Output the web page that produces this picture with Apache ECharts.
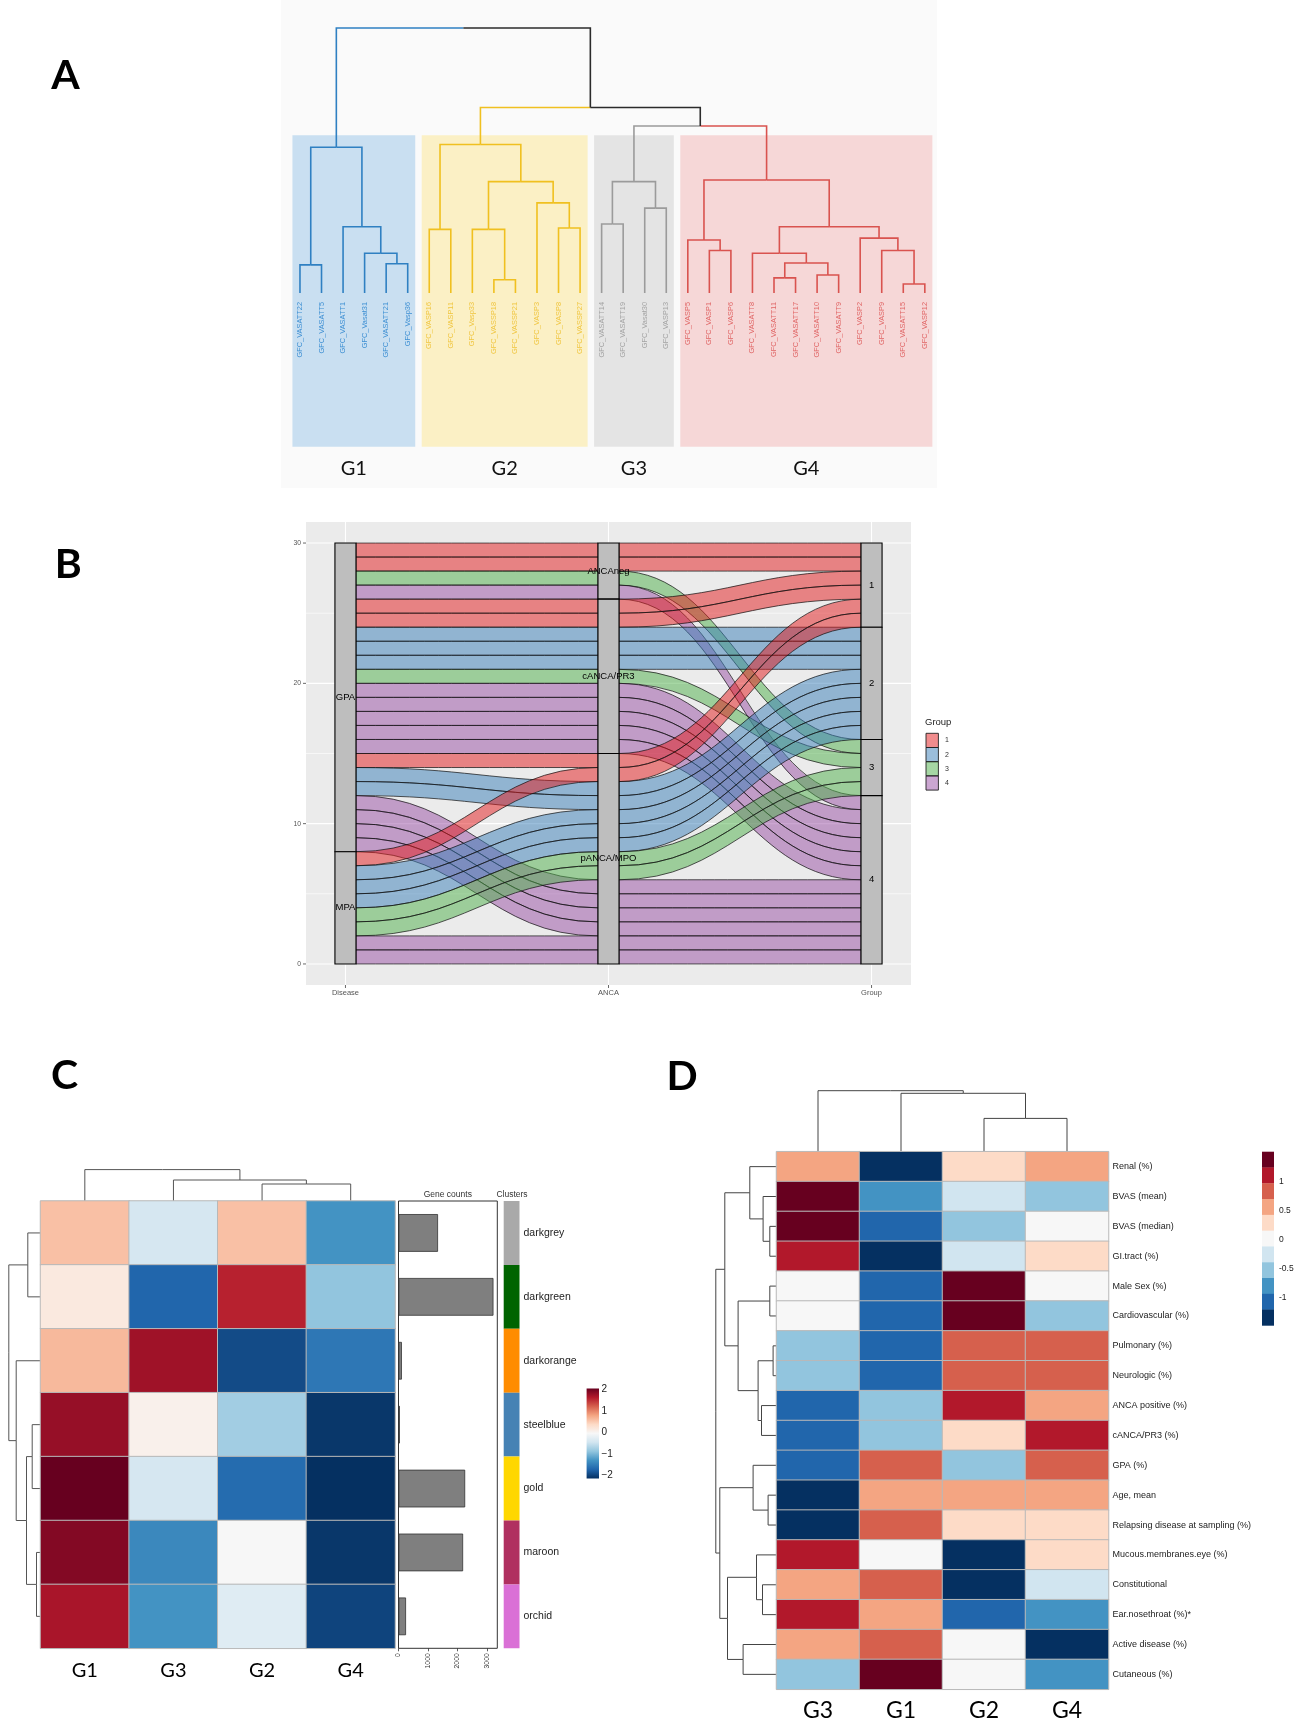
<!DOCTYPE html>
<html><head><meta charset="utf-8">
<script src="https://cdn.jsdelivr.net/npm/echarts@6/dist/echarts.min.js"></script>
<style>html,body{margin:0;padding:0;background:#fff}#c{width:1299px;height:1729px}</style>
</head><body><div id="c"></div><script>
// ================= DATA =================
// ---- Panel A: sample dendrogram ----
const leafLabels = ['GFC_VASATT22','GFC_VASATT5','GFC_VASATT1','GFC_Vasat31','GFC_VASATT21','GFC_Vasp36',
  'GFC_VASP16','GFC_VASP11','GFC_Vasp33','GFC_VASSP18','GFC_VASSP21','GFC_VASP3','GFC_VASP8','GFC_VASSP27',
  'GFC_VASATT14','GFC_VASATT19','GFC_Vasat30','GFC_VASP13',
  'GFC_VASP5','GFC_VASP1','GFC_VASP6','GFC_VASATT8','GFC_VASATT11','GFC_VASATT17','GFC_VASATT10','GFC_VASATT9','GFC_VASP2','GFC_VASP9','GFC_VASATT15','GFC_VASP12'];
const leafGroup = [0,0,0,0,0,0, 1,1,1,1,1,1,1,1, 2,2,2,2, 3,3,3,3,3,3,3,3,3,3,3,3];
const groupNames = ['G1','G2','G3','G4'];
// hclust-style merges: negative = leaf (1-based), positive = earlier merge; third = height
const sampleMerges = [
  [-1,-2,1.06],[-5,-6,1.1],[-4,2,1.5],[-3,3,2.5],[1,4,5.5],
  [-7,-8,2.4],[-10,-11,0.5],[-9,7,2.4],[-13,-14,2.45],[-12,9,3.4],[8,10,4.2],[6,11,5.6],
  [-15,-16,2.6],[-17,-18,3.2],[13,14,4.2],
  [-20,-21,1.6],[-19,16,2.0],[-23,-24,0.57],[-25,-26,0.68],[18,19,1.13],[-22,20,1.5],
  [-29,-30,0.34],[-28,22,1.6],[-27,23,2.07],[21,24,2.5],[17,25,4.26],
  [15,26,6.3],[12,27,7.0],[5,28,10.0]
];

// ---- Panel B: alluvial (one entry per patient) ----
const axesB = ['Disease','ANCA','Group'];
const strataB = [['GPA','MPA'],['ANCAneg','cANCA/PR3','pANCA/MPO'],['1','2','3','4']];
const patientDisease = ['GPA','GPA','GPA','GPA','GPA','GPA','GPA','GPA','GPA','GPA','GPA','GPA','GPA','GPA','GPA',
  'GPA','GPA','GPA','GPA','GPA','GPA','GPA','MPA','MPA','MPA','MPA','MPA','MPA','MPA','MPA'];
const patientANCA = ['ANCAneg','ANCAneg','ANCAneg','ANCAneg',
  'cANCA/PR3','cANCA/PR3','cANCA/PR3','cANCA/PR3','cANCA/PR3','cANCA/PR3','cANCA/PR3','cANCA/PR3','cANCA/PR3','cANCA/PR3','cANCA/PR3',
  'pANCA/MPO','pANCA/MPO','pANCA/MPO','pANCA/MPO','pANCA/MPO','pANCA/MPO','pANCA/MPO',
  'pANCA/MPO','pANCA/MPO','pANCA/MPO','pANCA/MPO','pANCA/MPO','pANCA/MPO','pANCA/MPO','pANCA/MPO'];
const patientGroup = [1,1,3,4, 1,1,2,2,2,3,4,4,4,4,4, 1,2,2,4,4,4,4, 1,2,2,2,3,3,4,4];
const sortOrderB = [[0,1,2],[1,2,0],[2,1,0]];
const yMajorB = [0,10,20,30];
const yMinorB = [5,15,25];

// ---- Panel C: module heatmap ----
const heatColsC = ['G1','G3','G2','G4'];
const clusterNames = ['darkgrey','darkgreen','darkorange','steelblue','gold','maroon','orchid'];
const clusterColors = ['#a9a9a9','#006400','#ff8c00','#4682b4','#ffd700','#b03060','#da70d6'];
const moduleScores = [
  [0.6,-0.35,0.6,-1.2],
  [0.2,-1.6,1.55,-0.8],
  [0.65,1.7,-1.8,-1.45],
  [1.75,0.1,-0.7,-1.95],
  [2.1,-0.35,-1.55,-2.1],
  [1.85,-1.3,0.0,-1.95],
  [1.65,-1.2,-0.25,-1.85]
];
const geneCounts = [1340,3220,115,45,2260,2190,255];
const colMergesC = [[-3,-4,1.7],[-2,1,2.1],[-1,2,3.14]];
const rowMergesC = [[-1,-2,1.27],[-4,-5,0.83],[-6,-7,0.4],[2,3,1.4],[-3,4,2.43],[1,5,3.17]];
const legendTicksC = [2,1,0,-1,-2];

// ---- Panel D: clinical features heatmap ----
const heatColsD = ['G3','G1','G2','G4'];
const featureNames = ['Renal (%)','BVAS (mean)','BVAS (median)','GI.tract (%)','Male Sex (%)','Cardiovascular (%)',
  'Pulmonary (%)','Neurologic (%)','ANCA positive (%)','cANCA/PR3 (%)','GPA (%)','Age, mean',
  'Relapsing disease at sampling (%)','Mucous.membranes.eye (%)','Constitutional','Ear.nosethroat (%)*',
  'Active disease (%)','Cutaneous (%)'];
const featureScores = [
  [0.55,-1.4,0.3,0.55],
  [1.4,-0.8,-0.3,-0.55],
  [1.4,-1.1,-0.55,0],
  [1.1,-1.4,-0.3,0.3],
  [0,-1.1,1.4,0],
  [0,-1.1,1.4,-0.55],
  [-0.55,-1.1,0.8,0.8],
  [-0.55,-1.1,0.8,0.8],
  [-1.1,-0.55,1.1,0.55],
  [-1.1,-0.55,0.3,1.1],
  [-1.1,0.8,-0.55,0.8],
  [-1.4,0.55,0.55,0.55],
  [-1.4,0.8,0.3,0.3],
  [1.1,0,-1.4,0.3],
  [0.55,0.8,-1.4,-0.3],
  [1.1,0.55,-1.1,-0.8],
  [0.55,0.8,0,-1.4],
  [-0.55,1.4,0,-0.8]
];
const colMergesD = [[-3,-4,3.33],[-2,1,5.84],[-1,2,6.1]];
const rowMergesD = [[-3,-4,0.67],[-2,1,1.34],[-1,2,2.67],[-5,-6,0.67],[-7,-8,0.34],[-9,-10,1.5],[5,6,1.84],[4,7,3.84],[3,8,5.17],
  [-12,-13,0.84],[-11,10,2.34],[-15,-16,1.4],[-14,12,2.0],[-17,-18,3.34],[13,14,4.9],[11,15,5.67],[9,16,6.07]];
const legendTicksD = [1,0.5,0,-0.5,-1];

// ================= STYLE =================
const SANS = '"Liberation Sans", Arial, sans-serif';
const BIG = 'Lato, "Open Sans", sans-serif';
const rdbu = ['#053061','#2166ac','#4393c3','#92c5de','#d1e5f0','#f7f7f7','#fddbc7','#f4a582','#d6604d','#b2182b','#67001f'];
const aLine = ['#2f80c2','#f0c020','#9b9b9b','#d9534f'];
const aFill = ['#c9dff1','#fbf0c5','#e4e4e4','#f6d7d7'];
const aText = ['#3d8fd3','#f0c640','#a3a3a3','#e06666'];
const flowFill = ['rgba(228,26,28,0.5)','rgba(55,126,184,0.5)','rgba(77,175,74,0.5)','rgba(152,78,163,0.5)'];
const HW = 0.04;

// ================= HELPERS =================
function dendroArms(merges, leafColor) {
  const nodes = [];
  const info = c => c < 0 ? {p: -c - 1, h: 0, col: leafColor ? leafColor[-c - 1] : 0} : nodes[c - 1];
  const arms = [];
  merges.forEach(m => {
    const A = info(m[0]), B = info(m[1]);
    const p = (A.p + B.p) / 2;
    arms.push([A.p, A.h, p, m[2], A.col], [B.p, B.h, p, m[2], B.col]);
    nodes.push({p: p, h: m[2], col: A.col === B.col ? A.col : -1});
  });
  return arms;
}
function dendroSeries(gi, arms, orient, colorFn, lw) {
  return {type: 'custom', coordinateSystem: 'cartesian2d', xAxisIndex: gi, yAxisIndex: gi, silent: true,
    data: arms,
    renderItem(params, api) {
      const c = api.value(0), ch = api.value(1), m = api.value(2), h = api.value(3), ci = api.value(4);
      const pt = (pos, hh) => orient === 'top' ? api.coord([pos, hh]) : api.coord([hh, pos]);
      return {type: 'polyline', shape: {points: [pt(c, ch), pt(c, h), pt(m, h)]},
        style: {stroke: colorFn(ci), lineWidth: lw, fill: null}};
    }};
}
const hv = (gi, min, max, inverse) => ({type: 'value', gridIndex: gi, min: min, max: max, inverse: !!inverse, show: false});
function txt(text, x, y, size, family, color, align, weight) {
  return {type: 'text', x: x, y: y, silent: true, style: {text: text, fontSize: size, fontFamily: family, fontWeight: weight || 'normal',
    fill: color, align: align || 'center', verticalAlign: 'middle', textAlign: align || 'center', textVerticalAlign: 'middle'}};
}

// ================= DERIVED =================
const groupRanges = groupNames.map((g, gi) => {
  const idx = leafGroup.map((v, i) => v === gi ? i : -1).filter(i => i >= 0);
  return [idx[0], idx[idx.length - 1], gi];
});
const armsA = dendroArms(sampleMerges, leafGroup);

const NB = patientGroup.length;
const stratIdx = p => [strataB[0].indexOf(patientDisease[p]), strataB[1].indexOf(patientANCA[p]), strataB[2].indexOf(String(patientGroup[p]))];
const topAt = axesB.map((_, k) => {
  const idx = [...Array(NB).keys()];
  idx.sort((a, b) => {
    const sa = stratIdx(a), sb = stratIdx(b);
    for (const d of sortOrderB[k]) { const diff = sa[d] - sb[d]; if (diff) return diff; }
    return a - b;
  });
  const tops = new Array(NB);
  idx.forEach((p, r) => { tops[p] = NB - r; });
  return tops;
});
const flowData = [];
for (let k = 0; k < axesB.length - 1; k++) {
  for (let p = 0; p < NB; p++) flowData.push([k, topAt[k][p], topAt[k + 1][p], stratIdx(p)[2]]);
}
const strataData = [], strataLabels = [];
strataB.forEach((list, k) => {
  let top = NB;
  list.forEach((s, si) => {
    let cnt = 0;
    for (let p = 0; p < NB; p++) if (stratIdx(p)[k] === si) cnt++;
    strataData.push([k + 1, top, top - cnt]);
    strataLabels.push(s);
    top -= cnt;
  });
});
const gridLinesB = [...yMajorB.map(v => [0, v]), ...yMinorB.map(v => [1, v]), ...axesB.map((a, i) => [2, i + 1])];

// ================= OPTION =================
const grids = [
  {left: 289.2, top: 15.5, width: 646.4, height: 437},
  {left: 306, top: 522, width: 605, height: 463, show: true, backgroundColor: '#ebebeb', borderWidth: 0},
  {left: 40.5, top: 1169, width: 354.5, height: 32},
  {left: 8, top: 1201, width: 32.5, height: 447.3},
  {left: 40.5, top: 1201, width: 354.5, height: 447.3},
  {left: 398.5, top: 1201, width: 98.8, height: 447.3, show: true, borderColor: '#333', borderWidth: 1},
  {left: 503.7, top: 1201, width: 15.8, height: 447.3},
  {left: 776.5, top: 1090, width: 332, height: 61.7},
  {left: 714, top: 1151.7, width: 62.5, height: 537.6},
  {left: 776.5, top: 1151.7, width: 332, height: 537.6}
].map(g => Object.assign({containLabel: false, outerBoundsMode: 'none'}, g));

const noLine = {axisLine: {show: false}, axisTick: {show: false}, splitLine: {show: false}};
const xAxes = [
  hv(0, -0.5, 29.5), hv(1, 0.85, 3.15), hv(2, -0.5, 3.5), hv(3, 0, 3.25, true),
  Object.assign({type: 'category', gridIndex: 4, data: heatColsC, position: 'bottom',
    axisLabel: {fontSize: 20, fontFamily: BIG, color: '#000', margin: 12, interval: 0}}, noLine),
  {type: 'value', gridIndex: 5, min: 0, max: 3350, interval: 1000, position: 'bottom',
    axisLine: {show: false}, splitLine: {show: false},
    axisTick: {show: true, length: 3, lineStyle: {color: '#333', width: 0.8}},
    axisLabel: {rotate: 90, fontSize: 6.8, fontFamily: SANS, color: '#333', margin: 5, showMaxLabel: false,
      formatter: v => String(v)}},
  hv(6, 0, 1), hv(7, -0.5, 3.5), hv(8, 0, 6.25, true),
  Object.assign({type: 'category', gridIndex: 9, data: heatColsD, position: 'bottom',
    axisLabel: {fontSize: 23, fontFamily: BIG, color: '#000', margin: 10, interval: 0}}, noLine)
];
const yAxes = [
  hv(0, -6.02, 10.47), hv(1, -1.5, 31.5), hv(2, 0, 3.2), hv(3, -0.5, 6.5, true),
  {type: 'category', gridIndex: 4, data: clusterNames, inverse: true, show: false},
  {type: 'category', gridIndex: 5, data: clusterNames, inverse: true, show: false},
  Object.assign({type: 'category', gridIndex: 6, data: clusterNames, inverse: true, position: 'right',
    axisLabel: {fontSize: 10.5, fontFamily: SANS, color: '#222', margin: 4, interval: 0}}, noLine),
  hv(7, 0, 6.17), hv(8, -0.5, 17.5, true),
  Object.assign({type: 'category', gridIndex: 9, data: featureNames, inverse: true, position: 'right',
    axisLabel: {fontSize: 9, fontFamily: SANS, color: '#222', margin: 4, interval: 0}}, noLine)
];

const series = [];
series.push({type: 'custom', coordinateSystem: 'cartesian2d', xAxisIndex: 0, yAxisIndex: 0, silent: true,
  data: groupRanges,
  renderItem(params, api) {
    const p0 = api.coord([api.value(0) - 0.35, 5.95]), p1 = api.coord([api.value(1) + 0.35, -5.8]);
    return {type: 'rect', shape: {x: p0[0], y: p0[1], width: p1[0] - p0[0], height: p1[1] - p0[1]},
      style: {fill: aFill[api.value(2)]}};
  }});
series.push(dendroSeries(0, armsA, 'top', ci => ci < 0 ? '#2b2b2b' : aLine[ci], 1.6));
series.push({type: 'custom', coordinateSystem: 'cartesian2d', xAxisIndex: 0, yAxisIndex: 0, silent: true,
  data: leafLabels.map((l, i) => [i, 0, leafGroup[i]]),
  renderItem(params, api) {
    const p = api.coord([api.value(0), api.value(1)]);
    return {type: 'text', x: p[0], y: p[1] + 9, rotation: Math.PI / 2,
      style: {text: leafLabels[params.dataIndex], fontSize: 7.4, fontFamily: SANS, fill: aText[api.value(2)],
        align: 'right', verticalAlign: 'middle'}};
  }});
series.push({type: 'custom', coordinateSystem: 'cartesian2d', xAxisIndex: 0, yAxisIndex: 0, silent: true,
  data: groupRanges.map(r => [(r[0] + r[1]) / 2, -6.64]),
  renderItem(params, api) {
    const p = api.coord([api.value(0), api.value(1)]);
    return {type: 'text', x: p[0], y: p[1],
      style: {text: groupNames[params.dataIndex], fontSize: 20, fontFamily: BIG, fill: '#111', align: 'center', verticalAlign: 'middle'}};
  }});
series.push({type: 'custom', coordinateSystem: 'cartesian2d', xAxisIndex: 1, yAxisIndex: 1, silent: true,
  data: gridLinesB,
  renderItem(params, api) {
    const t = api.value(0), v = api.value(1);
    let a, b;
    if (t < 2) { a = api.coord([0.85, v]); b = api.coord([3.15, v]); }
    else { a = api.coord([v, -1.5]); b = api.coord([v, 31.5]); }
    return {type: 'line', shape: {x1: a[0], y1: a[1], x2: b[0], y2: b[1]},
      style: {stroke: '#ffffff', lineWidth: t === 1 ? 0.6 : 1.1}};
  }});
series.push({type: 'custom', coordinateSystem: 'cartesian2d', xAxisIndex: 1, yAxisIndex: 1, silent: true,
  data: flowData,
  renderItem(params, api) {
    const k = api.value(0), tA = api.value(1), tB = api.value(2), g = api.value(3);
    const xa = k + 1 + HW, xb = k + 2 - HW;
    const a1 = api.coord([xa, tA]), b1 = api.coord([xb, tB]), b2 = api.coord([xb, tB - 1]), a2 = api.coord([xa, tA - 1]);
    const d = (b1[0] - a1[0]) * 0.45;
    const path = 'M' + a1[0] + ',' + a1[1] +
      ' C' + (a1[0] + d) + ',' + a1[1] + ' ' + (b1[0] - d) + ',' + b1[1] + ' ' + b1[0] + ',' + b1[1] +
      ' L' + b2[0] + ',' + b2[1] +
      ' C' + (b2[0] - d) + ',' + b2[1] + ' ' + (a2[0] + d) + ',' + a2[1] + ' ' + a2[0] + ',' + a2[1] + ' Z';
    return {type: 'path', shape: {pathData: path}, style: {fill: flowFill[g], stroke: 'rgba(20,20,20,0.9)', lineWidth: 0.8}};
  }});
series.push({type: 'custom', coordinateSystem: 'cartesian2d', xAxisIndex: 1, yAxisIndex: 1, silent: true,
  data: strataData,
  renderItem(params, api) {
    const k = api.value(0), t = api.value(1), b = api.value(2);
    const p0 = api.coord([k - HW, t]), p1 = api.coord([k + HW, b]);
    return {type: 'group', children: [
      {type: 'rect', shape: {x: p0[0], y: p0[1], width: p1[0] - p0[0], height: p1[1] - p0[1]},
        style: {fill: '#bebebe', stroke: '#000', lineWidth: 1.1}},
      {type: 'text', x: (p0[0] + p1[0]) / 2, y: (p0[1] + p1[1]) / 2,
        style: {text: strataLabels[params.dataIndex], fontSize: 9.5, fontFamily: SANS, fill: '#000', align: 'center', verticalAlign: 'middle'}}
    ]};
  }});
series.push({type: 'custom', coordinateSystem: 'cartesian2d', xAxisIndex: 1, yAxisIndex: 1, silent: true,
  data: yMajorB.map(v => [0.85, v]),
  renderItem(params, api) {
    const p = api.coord([api.value(0), api.value(1)]);
    return {type: 'group', children: [
      {type: 'line', shape: {x1: p[0] - 3, y1: p[1], x2: p[0], y2: p[1]}, style: {stroke: '#444', lineWidth: 0.8}},
      {type: 'text', x: p[0] - 5, y: p[1], style: {text: String(api.value(1)), fontSize: 6.8, fontFamily: SANS, fill: '#555', align: 'right', verticalAlign: 'middle'}}
    ]};
  }});
series.push({type: 'custom', coordinateSystem: 'cartesian2d', xAxisIndex: 1, yAxisIndex: 1, silent: true,
  data: axesB.map((a, i) => [i + 1, -1.5]),
  renderItem(params, api) {
    const p = api.coord([api.value(0), api.value(1)]);
    return {type: 'group', children: [
      {type: 'line', shape: {x1: p[0], y1: p[1], x2: p[0], y2: p[1] + 3}, style: {stroke: '#444', lineWidth: 0.8}},
      {type: 'text', x: p[0], y: p[1] + 8, style: {text: axesB[params.dataIndex], fontSize: 7.5, fontFamily: SANS, fill: '#555', align: 'center', verticalAlign: 'middle'}}
    ]};
  }});
series.push(dendroSeries(2, dendroArms(colMergesC), 'top', () => '#555', 1));
series.push(dendroSeries(3, dendroArms(rowMergesC), 'left', () => '#555', 1));
const heatCIndex = series.length;
const heatCData = [];
moduleScores.forEach((row, r) => row.forEach((v, c) => heatCData.push([c, r, v])));
series.push({type: 'heatmap', xAxisIndex: 4, yAxisIndex: 4, data: heatCData, silent: true,
  itemStyle: {borderColor: '#b8b8b8', borderWidth: 1}, emphasis: {disabled: true}});
series.push({type: 'bar', xAxisIndex: 5, yAxisIndex: 5, data: geneCounts, barWidth: '59%', silent: true,
  itemStyle: {color: '#7f7f7f', borderColor: '#333', borderWidth: 0.8}});
series.push({type: 'custom', coordinateSystem: 'cartesian2d', xAxisIndex: 6, yAxisIndex: 6, silent: true,
  data: clusterNames.map((n, i) => [0.5, i]),
  renderItem(params, api) {
    const c = api.coord([api.value(0), api.value(1)]), s = api.size([1, 1]);
    return {type: 'rect', shape: {x: c[0] - s[0] / 2, y: c[1] - s[1] / 2, width: s[0], height: s[1]},
      style: {fill: clusterColors[params.dataIndex]}};
  }});
series.push(dendroSeries(7, dendroArms(colMergesD), 'top', () => '#444', 1));
series.push(dendroSeries(8, dendroArms(rowMergesD), 'left', () => '#444', 1));
const heatDIndex = series.length;
const heatDData = [];
featureScores.forEach((row, r) => row.forEach((v, c) => heatDData.push([c, r, v])));
series.push({type: 'heatmap', xAxisIndex: 9, yAxisIndex: 9, data: heatDData, silent: true,
  itemStyle: {borderColor: '#b8b8b8', borderWidth: 1}, emphasis: {disabled: true}});

const stepD = 3 / rdbu.length;
const piecesD = rdbu.map((col, i) => {
  const p = {color: col};
  if (i > 0) p.gte = -1.5 + i * stepD;
  if (i < rdbu.length - 1) p.lt = -1.5 + (i + 1) * stepD;
  return p;
});

// ================= GRAPHICS (letters, legends) =================
const graphics = [];
graphics.push({type: 'rect', z: -100, silent: true, shape: {x: 281, y: 0, width: 656, height: 488}, style: {fill: '#fafafa'}});
graphics.push(txt('A', 65.5, 75.5, 41, BIG, '#000', 'center', 'bold'));
graphics.push(txt('B', 68.3, 565, 41, BIG, '#000', 'center', 'bold'));
graphics.push(txt('C', 64.5, 1075.5, 41, BIG, '#000', 'center', 'bold'));
graphics.push(txt('D', 682, 1076.5, 41, BIG, '#000', 'center', 'bold'));
graphics.push(txt('Group', 925, 722.5, 9.5, SANS, '#222', 'left'));
const legFillB = ['rgba(228,26,28,0.5)','rgba(55,126,184,0.5)','rgba(77,175,74,0.5)','rgba(152,78,163,0.5)'];
strataB[2].forEach((g, i) => {
  graphics.push({type: 'rect', silent: true, shape: {x: 926, y: 733.3 + i * 14.2, width: 12.4, height: 14.2},
    style: {fill: legFillB[i], stroke: '#222', lineWidth: 0.9}});
  graphics.push(txt(g, 945, 733.3 + i * 14.2 + 7.1, 7, SANS, '#333', 'left'));
});
graphics.push(txt('Gene counts', 447.8, 1194.7, 8.5, SANS, '#333', 'center'));
graphics.push(txt('Clusters', 512, 1194.7, 8.5, SANS, '#333', 'center'));
graphics.push({type: 'rect', silent: true, shape: {x: 586.6, y: 1388.4, width: 12.4, height: 90},
  style: {fill: {type: 'linear', x: 0, y: 0, x2: 0, y2: 1,
    colorStops: rdbu.slice().reverse().map((c, i) => ({offset: i / (rdbu.length - 1), color: c}))}}});
legendTicksC.forEach(v => {
  graphics.push(txt(String(v).replace('-', '\u2212'), 601.5, 1432.4 - v * 21.5, 10, SANS, '#222', 'left'));
});
const blockH = (1325.4 - 1151.7) / rdbu.length;
rdbu.slice().reverse().forEach((c, i) => {
  graphics.push({type: 'rect', silent: true, shape: {x: 1262, y: 1151.7 + i * blockH, width: 12, height: blockH + 0.3},
    style: {fill: c}});
});
legendTicksD.forEach(v => {
  graphics.push(txt(String(v), 1279, 1239.2 - v * 58, 8.5, SANS, '#222', 'left'));
});

const option = {
  animation: false,
  backgroundColor: '#ffffff',
  grid: grids,
  xAxis: xAxes,
  yAxis: yAxes,
  visualMap: [
    {type: 'continuous', min: -2, max: 2, seriesIndex: [heatCIndex], show: false, calculable: false,
      inRange: {color: rdbu}},
    {type: 'piecewise', seriesIndex: [heatDIndex], show: false, pieces: piecesD}
  ],
  graphic: graphics,
  series: series
};
const chart = echarts.init(document.getElementById('c'), null, {renderer: 'canvas', width: 1299, height: 1729});
chart.setOption(option);
</script></body></html>
